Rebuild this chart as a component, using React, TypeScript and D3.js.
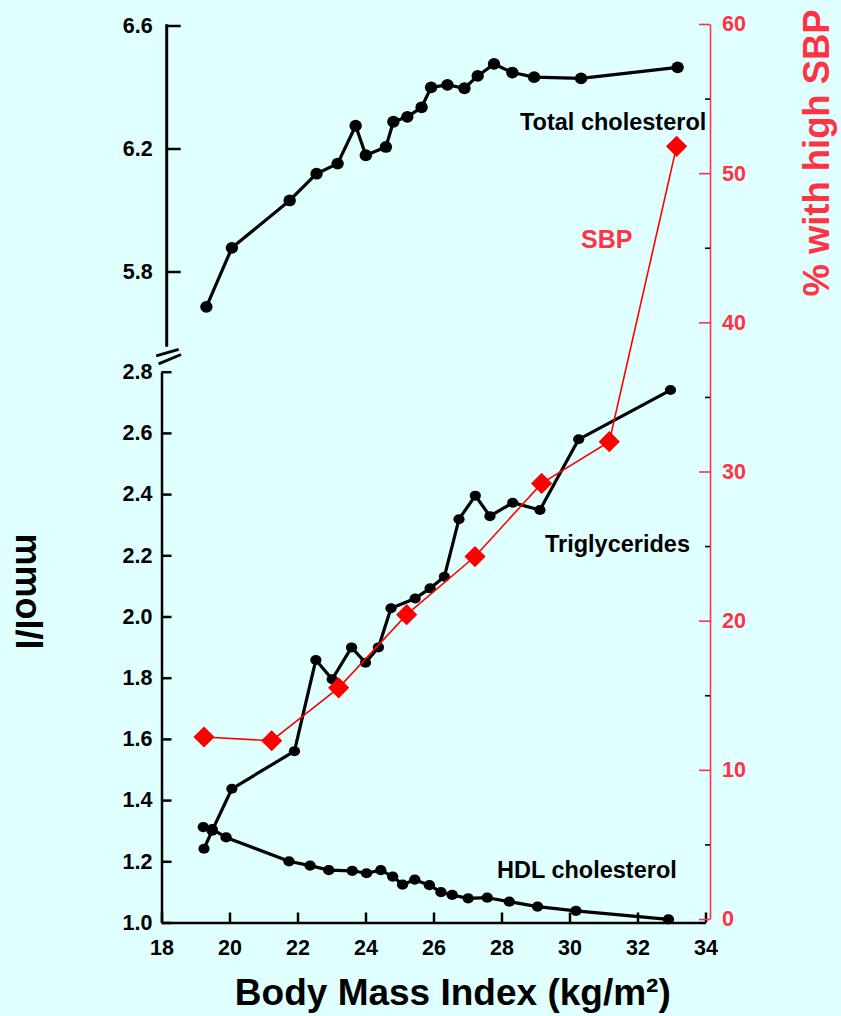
import React, { useRef, useEffect } from 'react';
import * as d3 from 'd3';

const width = 841;
const height = 1016;

// Total cholesterol (upper panel, mmol/l)
const tcBmi = [19.32, 20.07, 21.77, 22.56, 23.18, 23.71, 24.01, 24.6, 24.82, 25.23, 25.65, 25.93, 26.41, 26.91, 27.3, 27.78, 28.32, 28.96, 30.34, 33.18];
const tcValues = [5.685, 5.877, 6.031, 6.118, 6.151, 6.274, 6.178, 6.205, 6.287, 6.303, 6.334, 6.399, 6.407, 6.396, 6.436, 6.475, 6.447, 6.432, 6.428, 6.464];

// Triglycerides (lower panel, mmol/l)
const tgBmi = [19.25, 19.49, 20.07, 21.91, 22.54, 23.02, 23.59, 24.0, 24.38, 24.75, 25.46, 25.9, 26.32, 26.75, 27.23, 27.66, 28.33, 29.13, 30.27, 32.97];
const tgValues = [1.241, 1.3, 1.437, 1.56, 1.858, 1.795, 1.899, 1.849, 1.899, 2.027, 2.059, 2.092, 2.13, 2.318, 2.395, 2.328, 2.372, 2.348, 2.579, 2.74];

// HDL cholesterol (lower panel, mmol/l)
const hdlBmi = [19.23, 19.49, 19.9, 21.75, 22.37, 22.92, 23.61, 24.03, 24.45, 24.8, 25.09, 25.45, 25.88, 26.22, 26.55, 27.02, 27.58, 28.23, 29.06, 30.19, 32.91];
const hdlValues = [1.312, 1.305, 1.278, 1.2, 1.186, 1.171, 1.169, 1.161, 1.171, 1.15, 1.124, 1.14, 1.122, 1.099, 1.09, 1.079, 1.081, 1.068, 1.052, 1.038, 1.01];

// % with high SBP (right axis)
const sbpBmi = [19.25, 21.24, 23.21, 25.21, 27.22, 29.18, 31.17, 33.15];
const sbpValues = [12.2, 11.95, 15.5, 20.4, 24.3, 29.2, 32.0, 51.8];

const xTicks = [18, 20, 22, 24, 26, 28, 30, 32, 34];
const lowTicks = [1.0, 1.2, 1.4, 1.6, 1.8, 2.0, 2.2, 2.4, 2.6, 2.8];
const highTicks = [5.8, 6.2, 6.6];
const pctTicks = [0, 10, 20, 30, 40, 50, 60];
const pctMinorTicks = [5, 15, 25, 35, 45, 55];

const font = 'Liberation Sans, Arial, Helvetica, sans-serif';
const red = '#ff3344';

const App = () => {
  const ref = useRef<SVGSVGElement>(null);

  useEffect(() => {
    const svg = d3.select(ref.current);
    svg.selectAll('*').remove();

    const x = d3.scaleLinear().domain([18, 34]).range([161.5, 705.5]);
    const yLow = d3.scaleLinear().domain([1.0, 2.8]).range([922.5, 371.7]);
    const yHigh = d3.scaleLinear().domain([5.8, 6.6]).range([271.5, 25.5]);
    const yPct = d3.scaleLinear().domain([0, 60]).range([919, 24]);

    svg.append('rect').attr('width', width).attr('height', height).attr('fill', '#e0ffff');

    const styleAxis = (g, color) => {
      g.attr('font-family', font).attr('font-size', 21.5).attr('font-weight', 'bold');
      g.selectAll('.domain').attr('stroke', color).attr('stroke-width', 2.5);
      g.selectAll('.tick line').attr('stroke', color).attr('stroke-width', 2.5);
      g.selectAll('.tick text')
        .attr('fill', color)
        .style('font-family', font)
        .style('font-size', '21.5px')
        .style('font-weight', '700');
    };

    // bottom axis
    svg
      .append('g')
      .attr('transform', `translate(0,${yLow(1.0)})`)
      .call(
        d3.axisBottom(x).tickValues(xTicks).tickFormat(d3.format('d')).tickSizeInner(-10).tickSizeOuter(0).tickPadding(17)
      )
      .call(g => styleAxis(g, '#000'));

    // lower left axis
    svg
      .append('g')
      .attr('transform', `translate(${x(18)},0)`)
      .call(
        d3.axisLeft(yLow).tickValues(lowTicks).tickFormat(d3.format('.1f')).tickSizeInner(-10).tickSizeOuter(0).tickPadding(9)
      )
      .call(g => styleAxis(g, '#000'));

    // upper left axis (broken)
    const upperX = x(18) + 5.2;
    const upper = svg
      .append('g')
      .attr('transform', `translate(${upperX},0)`)
      .call(
        d3.axisLeft(yHigh).tickValues(highTicks).tickFormat(d3.format('.1f')).tickSizeInner(-14).tickSizeOuter(0).tickPadding(14)
      )
      .call(g => styleAxis(g, '#000'));
    upper.select('.domain').remove();
    upper
      .append('line')
      .attr('y1', yHigh(6.6) - 1.2)
      .attr('y2', yHigh(5.555))
      .attr('stroke', '#000')
      .attr('stroke-width', 3);

    // axis break marks
    const breakTop = yHigh(5.555);
    [0, 8].forEach(dy => {
      svg
        .append('line')
        .attr('x1', upperX - 10.5 + dy * 0.3)
        .attr('y1', breakTop + 9 + dy)
        .attr('x2', upperX + 12 + dy * 0.3)
        .attr('y2', breakTop + 2.5 + dy - dy * 0.35)
        .attr('stroke', '#000')
        .attr('stroke-width', 2.8);
    });

    // right axis
    const rightX = 710;
    svg
      .append('g')
      .attr('transform', `translate(${rightX},0)`)
      .call(d3.axisRight(yPct).tickValues(pctTicks).tickFormat(d3.format('d')).tickSizeInner(-11).tickSizeOuter(0).tickPadding(12))
      .call(g => styleAxis(g, red))
      .call(g => g.selectAll('.domain, .tick line').attr('stroke-width', 1.6));
    svg
      .append('g')
      .attr('transform', `translate(${rightX},0)`)
      .call(d3.axisRight(yPct).tickValues(pctMinorTicks).tickFormat(() => '').tickSizeInner(-5).tickSizeOuter(0))
      .call(g => {
        g.select('.domain').remove();
        g.selectAll('.tick line').attr('stroke', '#000').attr('stroke-width', 1.6);
      });

    // series lines
    const lineOf = (xs, ys, yScale) =>
      d3
        .line<number>()
        .x((d, i) => x(xs[i]))
        .y(d => yScale(d))(ys);

    const drawSeries = (xs, ys, yScale, rx, ry) => {
      svg
        .append('path')
        .attr('d', lineOf(xs, ys, yScale))
        .attr('fill', 'none')
        .attr('stroke', '#000')
        .attr('stroke-width', 3.2)
        .attr('stroke-linejoin', 'round');
      svg
        .append('g')
        .selectAll('ellipse')
        .data(ys)
        .enter()
        .append('ellipse')
        .attr('cx', (d, i) => x(xs[i]))
        .attr('cy', d => yScale(d))
        .attr('rx', rx)
        .attr('ry', ry)
        .attr('fill', '#000');
    };

    drawSeries(tcBmi, tcValues, yHigh, 6.2, 5.9);
    drawSeries(hdlBmi, hdlValues, yLow, 5.7, 5.1);
    drawSeries(tgBmi, tgValues, yLow, 5.6, 5.0);

    // SBP
    svg
      .append('path')
      .attr('d', lineOf(sbpBmi, sbpValues, yPct))
      .attr('fill', 'none')
      .attr('stroke', '#ff0000')
      .attr('stroke-width', 1.6);
    svg
      .append('g')
      .selectAll('path')
      .data(sbpValues)
      .enter()
      .append('path')
      .attr('d', d3.symbol(d3.symbolSquare, 225)())
      .attr('transform', (d, i) => `translate(${x(sbpBmi[i])},${yPct(d)}) rotate(45)`)
      .attr('fill', '#ff0000');

    // series labels
    const label = (text, px, py, size, color) =>
      svg
        .append('text')
        .attr('x', px)
        .attr('y', py)
        .attr('font-family', font)
        .attr('font-weight', 'bold')
        .attr('font-size', size)
        .attr('fill', color)
        .text(text);

    label('Total cholesterol', 520, 129.5, 23.5, '#000');
    label('Triglycerides', 545, 552, 23.5, '#000');
    label('HDL cholesterol', 497, 878, 23.5, '#000');
    label('SBP', 581, 248, 25, red);

    // axis titles
    svg
      .append('text')
      .attr('transform', 'translate(16,591.5) rotate(90)')
      .attr('text-anchor', 'middle')
      .attr('font-family', font)
      .attr('font-weight', 'bold')
      .attr('font-size', 36)
      .attr('fill', '#000')
      .text('mmol/l');

    svg
      .append('text')
      .attr('transform', 'translate(829,153) rotate(-90)')
      .attr('text-anchor', 'middle')
      .attr('font-family', font)
      .attr('font-weight', 'bold')
      .attr('font-size', 37)
      .attr('textLength', 287)
      .attr('lengthAdjust', 'spacingAndGlyphs')
      .attr('fill', red)
      .text('% with high SBP');

    svg
      .append('text')
      .attr('x', 452.8)
      .attr('y', 1005)
      .attr('text-anchor', 'middle')
      .attr('font-family', font)
      .attr('font-weight', 'bold')
      .attr('font-size', 37)
      .attr('fill', '#000')
      .text('Body Mass Index (kg/m²)');
  }, []);

  return (
    <svg
      ref={ref}
      width={width}
      height={height}
      style={{ position: 'absolute', left: 0, top: 0, display: 'block' }}
    />
  );
};

export default App;
